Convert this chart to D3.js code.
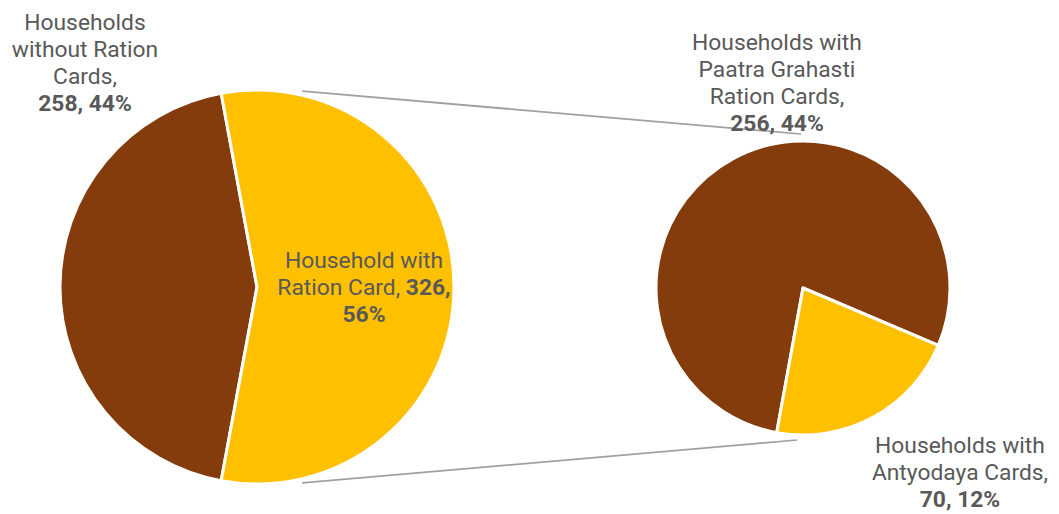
<!DOCTYPE html>
<html>
<head>
<meta charset="utf-8">
<script src="https://cdn.jsdelivr.net/npm/d3@7"></script>
<style>
  html, body { margin: 0; padding: 0; background: #fff; }
  svg { display: block; font-family: Roboto, "Noto Sans", sans-serif; }
</style>
</head>
<body>
<svg id="chart" width="1059" height="514"></svg>
<script>
// ---- Data ----
const mainCategories = ["Households without Ration Cards", "Household with Ration Card"];
const mainValues = [258, 326];
const subCategories = ["Households with Paatra Grahasti Ration Cards", "Households with Antyodaya Cards"];
const subValues = [256, 70];
const colors = ["#843C0C", "#FFC000"];

const total = d3.sum(mainValues);
const pct = v => Math.round(v / total * 100) + "%";

const svg = d3.select("#chart");

// ---- Layout ----
const main = { cx: 257, cy: 287, r: 197 };
const sub = { cx: 803, cy: 288, r: 147 };
const deg = Math.PI / 180;

const mainOtherAngle = mainValues[1] / total * 2 * Math.PI;
const mainStart = Math.PI / 2 - mainOtherAngle / 2;
const mainPie = d3.pie().sort(null).value(d => d)
  .startAngle(mainStart - (2 * Math.PI - mainOtherAngle))
  .endAngle(mainStart + mainOtherAngle);

const subPie = d3.pie().sort(null).value(d => d)
  .startAngle(113 * deg - (subValues[0] / d3.sum(subValues)) * 2 * Math.PI)
  .endAngle(113 * deg + (subValues[1] / d3.sum(subValues)) * 2 * Math.PI);

const mainArc = d3.arc().innerRadius(0).outerRadius(main.r);
const subArc = d3.arc().innerRadius(0).outerRadius(sub.r);

// connector lines
const connA = 77 * deg;
const lines = [
  [main.cx + (main.r + 4) * Math.cos(-connA), main.cy + (main.r + 4) * Math.sin(-connA), sub.cx - 2, sub.cy - sub.r - 7],
  [main.cx + (main.r + 4) * Math.cos(connA), main.cy + (main.r + 4) * Math.sin(connA), sub.cx - 6, sub.cy + sub.r + 5]
];
svg.selectAll("line.conn").data(lines).join("line")
  .attr("class", "conn")
  .attr("x1", d => d[0]).attr("y1", d => d[1])
  .attr("x2", d => d[2]).attr("y2", d => d[3])
  .attr("stroke", "#A0A0A0").attr("stroke-width", 1.75);

svg.append("g").attr("transform", `translate(${main.cx},${main.cy})`)
  .selectAll("path").data(mainPie(mainValues)).join("path")
  .attr("d", mainArc)
  .attr("fill", (d, i) => colors[i])
  .attr("stroke", "#fff").attr("stroke-width", 3).attr("stroke-linejoin", "round");

svg.append("g").attr("transform", `translate(${sub.cx},${sub.cy})`)
  .selectAll("path").data(subPie(subValues)).join("path")
  .attr("d", subArc)
  .attr("fill", (d, i) => colors[i])
  .attr("stroke", "#fff").attr("stroke-width", 3).attr("stroke-linejoin", "round");

// ---- Labels ----
const labels = [
  { x: 85, y: 30, lines: [[["Households", 0]], [["without Ration", 0]], [["Cards,", 0]],
      [[mainValues[0] + ", " + pct(mainValues[0]), 1]]] },
  { x: 364, y: 268, lines: [[["Household with", 0]], [["Ration Card, ", 0], [mainValues[1] + ",", 1]],
      [[pct(mainValues[1]), 1]]] },
  { x: 777, y: 50, lines: [[["Households with", 0]], [["Paatra Grahasti", 0]], [["Ration Cards,", 0]],
      [[subValues[0] + ", " + pct(subValues[0]), 1]]] },
  { x: 960, y: 453, lines: [[["Households with", 0]], [["Antyodaya Cards,", 0]],
      [[subValues[1] + ", " + pct(subValues[1]), 1]]] }
];
const lh = 27;
labels.forEach(lb => {
  const t = svg.append("text")
    .attr("text-anchor", "middle")
    .attr("fill", "#595959")
    .style("font-size", "22.8px");
  lb.lines.forEach((ln, li) => {
    ln.forEach((seg, si) => {
      const ts = t.append("tspan").text(seg[0])
        .attr("font-weight", seg[1] ? "bold" : "normal");
      if (si === 0) ts.attr("x", lb.x).attr("y", lb.y + li * lh);
    });
  });
});
</script>
</body>
</html>
